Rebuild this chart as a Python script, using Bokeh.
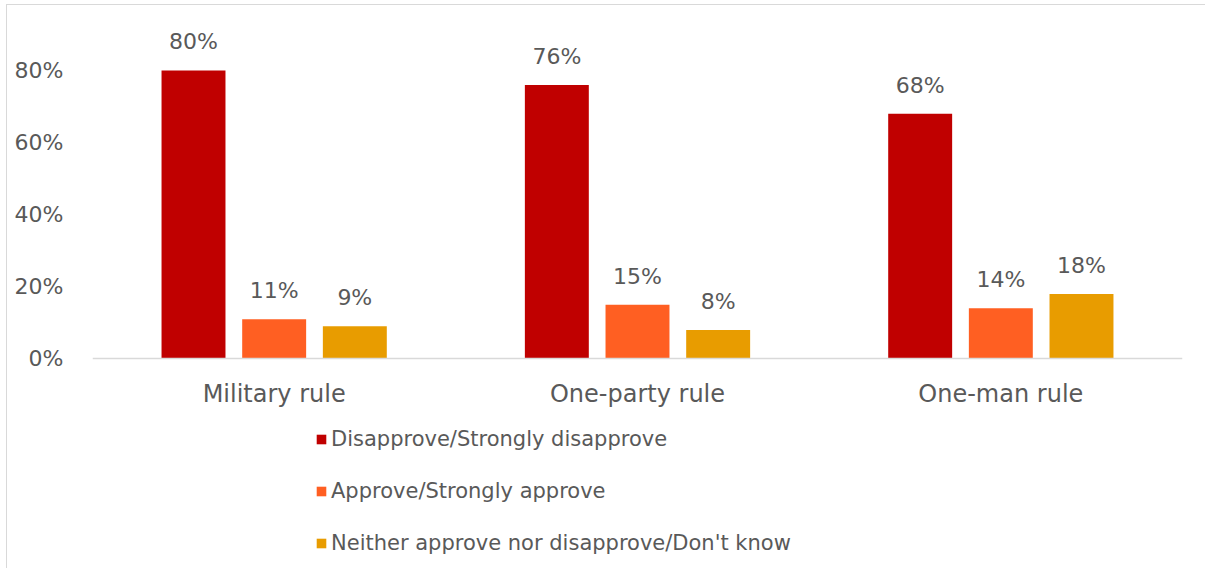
from bokeh.plotting import figure
from bokeh.models import (ColumnDataSource, FactorRange, Range1d, FixedTicker,
                          NumeralTickFormatter, CategoricalAxis, Legend, LegendItem)
from bokeh.transform import dodge
from bokeh.core.properties import value
from bokeh.embed import file_html
from bokeh.resources import INLINE

categories = ["Military rule", "One-party rule", "One-man rule"]
series_names = ["Disapprove/Strongly disapprove", "Approve/Strongly approve",
                "Neither approve nor disapprove/Don't know"]
disapprove = [0.80, 0.76, 0.68]
approve = [0.11, 0.15, 0.14]
neither = [0.09, 0.08, 0.18]
y_ticks = [0.0, 0.2, 0.4, 0.6, 0.8]

colors = ["#C00000", "#FF5F22", "#E89C00"]
FONT = "DejaVu Sans"
TXT = "#595959"

p = figure(x_range=FactorRange(*categories, range_padding=0),
           y_range=Range1d(-0.582, 0.972),
           width=1205, height=568, output_backend="svg", toolbar_location=None,
           x_axis_location=None, min_border_left=92, min_border_right=23,
           min_border_top=8, min_border_bottom=0)
p.outline_line_color = None
p.xgrid.visible = False
p.ygrid.visible = False
p.background_fill_alpha = 0
p.border_fill_alpha = 0
p.styles = {"box-shadow": "inset 6px 4px 0 0 #FFFFFF, inset 7px 5px 0 0 #D9D9D9",
            "background-color": "#FFFFFF"}

src = ColumnDataSource(dict(cat=categories, d=disapprove, a=approve, n=neither,
                            dl=[f"{round(v*100)}%" for v in disapprove],
                            al=[f"{round(v*100)}%" for v in approve],
                            nl=[f"{round(v*100)}%" for v in neither]))

offs = [-0.222, 0.0, 0.222]
cols = ["d", "a", "n"]
labs = ["dl", "al", "nl"]
renderers = []
for off, c, lab, color in zip(offs, cols, labs, colors):
    r = p.vbar(x=dodge("cat", off, range=p.x_range), top=c, width=0.176,
               source=src, fill_color=color, line_color=None)
    renderers.append(r)
    p.text(x=dodge("cat", off, range=p.x_range), y=c, text=lab, source=src,
           text_align="center", text_baseline="bottom", y_offset=-16,
           text_font=value(FONT), text_font_size="22px", text_color=TXT)

xaxis = CategoricalAxis(fixed_location=0)
xaxis.axis_line_color = "#D9D9D9"
xaxis.axis_line_width = 1.5
xaxis.major_tick_line_color = None
xaxis.minor_tick_line_color = None
xaxis.major_label_text_font = FONT
xaxis.major_label_text_font_size = "24px"
xaxis.major_label_text_color = TXT
xaxis.major_label_standoff = 15
p.add_layout(xaxis, "below")

yaxis = p.yaxis[0]
yaxis.ticker = FixedTicker(ticks=y_ticks)
yaxis.formatter = NumeralTickFormatter(format="0%")
yaxis.axis_line_color = None
yaxis.major_tick_line_color = None
yaxis.minor_tick_line_color = None
yaxis.major_label_text_font = FONT
yaxis.major_label_text_font_size = "22px"
yaxis.major_label_text_color = TXT
yaxis.major_label_standoff = 23

legend = Legend(items=[LegendItem(label=n, renderers=[r]) for n, r in zip(series_names, renderers)],
                location=(223, 13), orientation="vertical",
                glyph_width=12, glyph_height=12, label_standoff=4, spacing=28,
                padding=0, margin=0, border_line_color=None, background_fill_alpha=0,
                label_text_font=FONT, label_text_font_size="21px", label_text_color=TXT)
p.add_layout(legend)

open("out.html", "w").write(file_html(p, INLINE))
